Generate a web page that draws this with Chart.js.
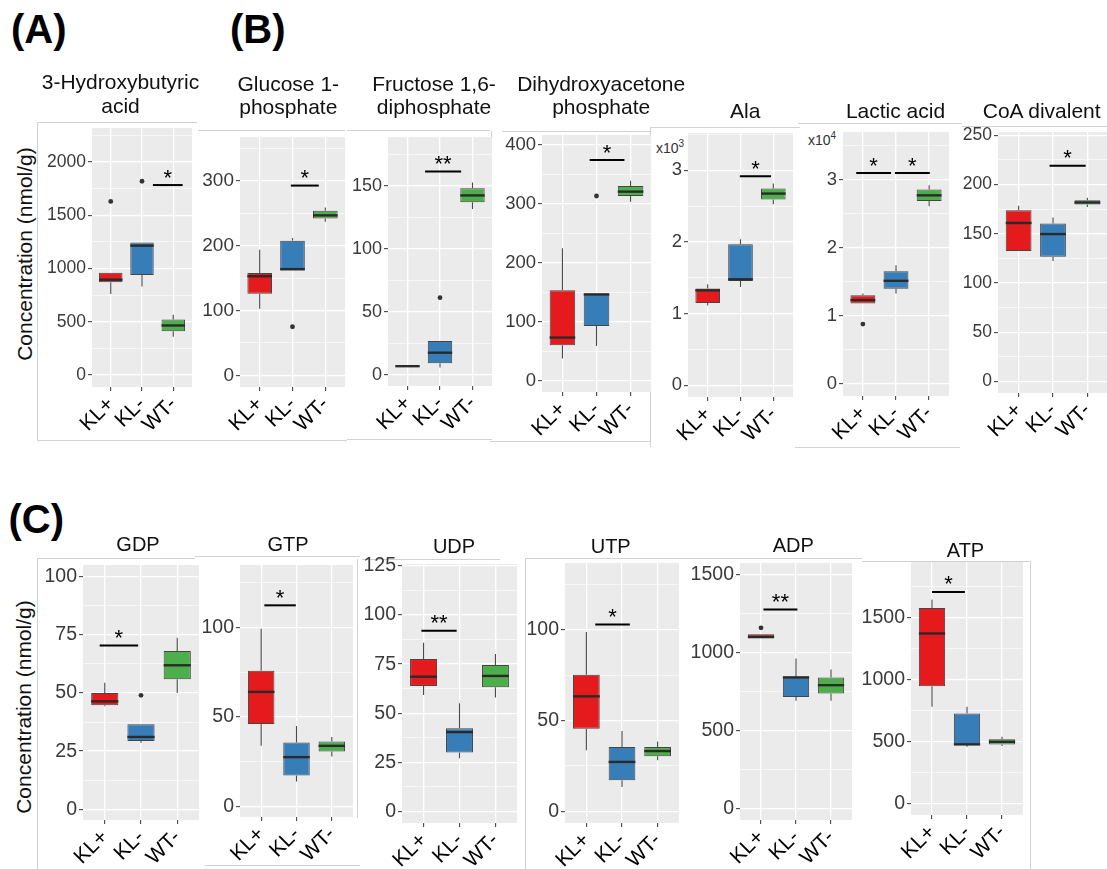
<!DOCTYPE html>
<html>
<head>
<meta charset="utf-8">
<script src="https://cdn.jsdelivr.net/npm/chart.js@4.4.1/dist/chart.umd.min.js"></script>
<style>
  html, body { margin: 0; padding: 0; background: #fff; }
  body { width: 1107px; height: 869px; position: relative; overflow: hidden;
         font-family: "Liberation Sans", Arial, sans-serif; }
  canvas { position: absolute; }
  .title { position: absolute; width: 260px; text-align: center; color: #111; white-space: nowrap; }
  .tag { position: absolute; font-weight: bold; font-size: 40px; line-height: 40px; color: #000; }
  .ylab { position: absolute; font-size: 21px; line-height: 24px; white-space: nowrap; color: #111;
          transform: translate(-50%, -50%) rotate(-90deg); }
  .line { position: absolute; background: #d2d2d2; }
  .expo { position: absolute; font-size: 14px; line-height: 14px; color: #333; white-space: nowrap; }
  .expo sup { font-size: 10px; vertical-align: 6px; line-height: 0; }
</style>
</head>
<body>
<script>
// Groups shown on every x axis and their fills
const groups = ['KL+', 'KL-', 'WT-'];
const groupColors = ['#E41A1C', '#377EB8', '#4DAF4A'];

// Five-number summaries per group: [lower whisker, Q1, median, Q3, upper whisker]
// Outliers per group; significance brackets: [from x, to x, y, label]

// (A)
const hydroxybutyric = [[760, 870, 895, 960, 960], [830, 940, 1215, 1245, 1245], [360, 410, 465, 520, 565]];
const hydroxybutyricOutliers = [[1630], [1820], []];
const hydroxybutyricSig = [[1.35, 2.3, 1784, '*']];

// (B)
const glucose1p = [[103, 126, 153, 158, 194], [162, 162, 164, 208, 212], [237, 242, 247, 254, 259]];
const glucose1pOutliers = [[], [75], []];
const glucose1pSig = [[0.95, 1.8, 293, '*']];

const fructose16dp = [[6.9, 6.9, 7.0, 7.1, 7.1], [6, 9.3, 17.7, 27, 27], [131.5, 136.8, 142.3, 147.9, 152.6]];
const fructose16dpOutliers = [[], [61.3], []];
const fructose16dpSig = [[0.54, 1.65, 161.3, '**']];

const dhap = [[38, 60.6, 73.6, 154, 225], [59.4, 93.4, 146.7, 148.4, 148.4], [304, 313.6, 321, 330.6, 339.5]];
const dhapOutliers = [[], [313.6], []];
const dhapSig = [[0.8, 1.82, 374.5, '*']];

const alanine = [[1115, 1150, 1325, 1350, 1410], [1372, 1455, 1479, 1967, 2037], [2525, 2591, 2675, 2745, 2814]];
const alanineOutliers = [[], [], []];
const alanineSig = [[0.98, 1.93, 2916, '*']];

const lactate = [[11830, 11830, 12320, 13050, 13300], [13300, 13970, 15150, 16570, 17450], [26100, 26870, 27700, 28540, 29200]];
const lactateOutliers = [[8800], [], []];
const lactateSig = [[-0.2, 0.85, 30980, '*'], [0.97, 2.02, 30980, '*']];

const coaDivalent = [[132.5, 132.5, 161, 174, 178.4], [122.3, 126.7, 149.7, 160.5, 166.6], [177.3, 179.8, 181.8, 184.1, 186.5]];
const coaDivalentOutliers = [[], [], []];
const coaDivalentSig = [[0.9, 1.95, 219, '*']];

// (C)
const gdp = [[44.3, 44.7, 46.4, 50.0, 54.4], [28.6, 29.4, 31.1, 36.6, 36.6], [50.0, 55.9, 61.9, 68.0, 73.7]];
const gdpOutliers = [[], [49.0], []];
const gdpSig = [[-0.14, 0.92, 70.4, '*']];

const gtp = [[33.8, 46.0, 63.9, 75.7, 99.1], [13.9, 17.3, 27.5, 35.7, 44.9], [27.9, 30.7, 33.8, 36.2, 38.8]];
const gtpOutliers = [[], [], []];
const gtpSig = [[0.09, 0.98, 112.2, '*']];

const udp = [[59.3, 63.9, 68.6, 77.6, 85.9], [27.1, 30.0, 40.4, 42.4, 55.1], [58.0, 63.2, 69.0, 74.6, 80.2]];
const udpOutliers = [[], [], []];
const udpSig = [[-0.06, 0.92, 92, '**']];

const utp = [[33.6, 45.5, 63.3, 75.2, 98.7], [13.4, 17.1, 27.2, 35.4, 44.2], [28.1, 30.3, 33.2, 35.4, 38.5]];
const utpOutliers = [[], [], []];
const utpSig = [[0.25, 1.22, 102.8, '*']];

const adp = [[1090, 1090, 1100, 1117, 1117], [690, 715, 840, 844, 962], [690, 737, 790, 840, 891]];
const adpOutliers = [[1158], [], []];
const adpSig = [[0.07, 1.04, 1276, '**']];

const atp = [[779, 946, 1371, 1577, 1645], [456, 470, 476, 726, 779], [462, 476, 497, 518, 537]];
const atpOutliers = [[], [], []];
const atpSig = [[0, 0.94, 1706, '*']];

// Panels: title lines, data and y range (min, max, major step, label divisor)
const panels = [
  { title: ['3-Hydroxybutyric', 'acid'], stats: hydroxybutyric, outliers: hydroxybutyricOutliers, sig: hydroxybutyricSig, yMin: -113, yMax: 2320, step: 500, div: 1 },
  { title: ['Glucose 1-', 'phosphate'], stats: glucose1p, outliers: glucose1pOutliers, sig: glucose1pSig, yMin: -18, yMax: 368, step: 100, div: 1 },
  { title: ['Fructose 1,6-', 'diphosphate'], stats: fructose16dp, outliers: fructose16dpOutliers, sig: fructose16dpSig, yMin: -8.7, yMax: 188.6, step: 50, div: 1 },
  { title: ['Dihydroxyacetone', 'phosphate'], stats: dhap, outliers: dhapOutliers, sig: dhapSig, yMin: -18.7, yMax: 417, step: 100, div: 1 },
  { title: ['Ala'], stats: alanine, outliers: alanineOutliers, sig: alanineSig, yMin: -163, yMax: 3520, step: 1000, div: 1000 },
  { title: ['Lactic acid'], stats: lactate, outliers: lactateOutliers, sig: lactateSig, yMin: -1760, yMax: 37000, step: 10000, div: 10000 },
  { title: ['CoA divalent'], stats: coaDivalent, outliers: coaDivalentOutliers, sig: coaDivalentSig, yMin: -11.8, yMax: 253.4, step: 50, div: 1 },
  { title: ['GDP'], stats: gdp, outliers: gdpOutliers, sig: gdpSig, yMin: -4.6, yMax: 105, step: 25, div: 1 },
  { title: ['GTP'], stats: gtp, outliers: gtpOutliers, sig: gtpSig, yMin: -5.9, yMax: 134.7, step: 50, div: 1 },
  { title: ['UDP'], stats: udp, outliers: udpOutliers, sig: udpSig, yMin: -5.9, yMax: 126, step: 25, div: 1 },
  { title: ['UTP'], stats: utp, outliers: utpOutliers, sig: utpSig, yMin: -6.4, yMax: 136.7, step: 50, div: 1 },
  { title: ['ADP'], stats: adp, outliers: adpOutliers, sig: adpSig, yMin: -75, yMax: 1574, step: 500, div: 1 },
  { title: ['ATP'], stats: atp, outliers: atpOutliers, sig: atpSig, yMin: -94, yMax: 1948, step: 500, div: 1 }
];

// Page placement of each plot area, its title (centre x, first baseline) and tick font sizes
const placement = [
  { plot: [92, 128, 192, 387], tx: 120.5, tb: 89.3, tfs: 21, tlh: 24, fs: 17.5 },
  { plot: [240, 137, 345, 387], tx: 288.3, tb: 90.7, tfs: 21, tlh: 23, fs: 19 },
  { plot: [388, 137, 492, 386], tx: 434, tb: 90.7, tfs: 21, tlh: 23, fs: 18 },
  { plot: [542, 135, 651, 392], tx: 601.2, tb: 90.7, tfs: 21, tlh: 23, fs: 18.5 },
  { plot: [688, 133, 793, 397], tx: 745.3, tb: 117.3, tfs: 21, tlh: 23, fs: 18.5 },
  { plot: [843, 132, 949, 396], tx: 895.5, tb: 118, tfs: 21, tlh: 23, fs: 18.5 },
  { plot: [998, 132, 1108, 393], tx: 1041.7, tb: 117.3, tfs: 21, tlh: 23, fs: 17.5 },
  { plot: [83, 565, 199, 820], tx: 138, tb: 551, tfs: 20, tlh: 23, fs: 19.5 },
  { plot: [240, 565, 353, 817], tx: 288, tb: 551, tfs: 20, tlh: 23, fs: 19.5 },
  { plot: [402, 564, 517, 823], tx: 454, tb: 553.3, tfs: 20, tlh: 23, fs: 19.5 },
  { plot: [565, 563, 679, 823], tx: 610.7, tb: 553.3, tfs: 20, tlh: 23, fs: 19.5 },
  { plot: [740, 563, 852, 820], tx: 793.3, tb: 552.7, tfs: 20, tlh: 23, fs: 19.5 },
  { plot: [911, 562, 1023, 815], tx: 965.5, tb: 557.7, tfs: 20, tlh: 23, fs: 19.5 }
];

const FONT = "'Liberation Sans', Arial, sans-serif";
const LW = 70, TP = 24, RP = 14, BH = 72;   // canvas margins around each plot area

function addDiv(cls, css, html) {
  const d = document.createElement('div');
  d.className = cls;
  Object.assign(d.style, css);
  d.innerHTML = html;
  document.body.appendChild(d);
  return d;
}

// Thin grey frame lines around the panels: [x, y, w, h]
const frameLines = [
  [37, 122, 160, 1], [37, 440, 160, 1], [37, 122, 1, 318],
  [198, 130, 147, 1], [197, 440, 150, 1],
  [347, 130, 143, 1], [347, 439, 145, 1],
  [502, 131, 148, 1], [490, 441, 160, 1], [491, 131, 1, 249],
  [650, 127, 150, 1], [650, 127, 1, 320],
  [798, 123, 164, 1], [795, 447, 165, 1],
  [962, 126, 145, 1],
  [37, 558, 158, 1], [37, 558, 1, 311],
  [195, 556, 165, 1], [205, 865, 155, 1],
  [362, 559, 138, 1], [357, 559, 1, 259],
  [525, 558, 170, 1], [525, 558, 1, 311],
  [690, 558, 172, 1],
  [862, 561, 168, 1], [1030, 561, 1, 308]
];
frameLines.forEach(([x, y, w, h]) => addDiv('line', { left: x + 'px', top: y + 'px', width: w + 'px', height: h + 'px' }, ''));

// Panel tags
[['(A)', 11, 43.3], ['(B)', 230, 43.3], ['(C)', 8.5, 532.7]].forEach(([t, x, base]) =>
  addDiv('tag', { left: x + 'px', top: (base - 33.9) + 'px' }, t));

// Shared y-axis titles
addDiv('ylab', { left: '25px', top: '254px' }, 'Concentration (nmol/g)');
addDiv('ylab', { left: '23.5px', top: '706.5px' }, 'Concentration (nmol/g)');

// Axis multipliers for Ala and Lactic acid
addDiv('expo', { left: '656px', top: '141px' }, 'x10<sup>3</sup>');
addDiv('expo', { left: '808px', top: '133px' }, 'x10<sup>4</sup>');

// Whiskers, medians, plot background and significance brackets
function boxParts(p) {
  return {
    id: 'boxParts',
    beforeDraw(chart) {
      const { ctx, chartArea: a } = chart;
      ctx.save();
      ctx.fillStyle = '#EBEBEB';
      ctx.fillRect(a.left, a.top, a.right - a.left, a.bottom - a.top);
      ctx.restore();
    },
    beforeDatasetsDraw(chart) {
      const { ctx, scales: { x, y } } = chart;
      ctx.save();
      ctx.strokeStyle = '#4a4a4a';
      ctx.lineWidth = 1.1;
      p.stats.forEach((s, i) => {
        const px = x.getPixelForValue(i);
        ctx.beginPath();
        ctx.moveTo(px, y.getPixelForValue(s[0]));
        ctx.lineTo(px, y.getPixelForValue(s[1]));
        ctx.moveTo(px, y.getPixelForValue(s[3]));
        ctx.lineTo(px, y.getPixelForValue(s[4]));
        ctx.stroke();
      });
      ctx.restore();
    },
    afterDatasetsDraw(chart) {
      const { ctx, scales: { x, y } } = chart;
      const bars = chart.getDatasetMeta(0).data;
      ctx.save();
      ctx.strokeStyle = '#2a2a2a';
      ctx.lineWidth = 2.4;
      bars.forEach((bar, i) => {
        const { x: bx, width } = bar.getProps(['x', 'width'], true);
        const py = y.getPixelForValue(p.stats[i][2]);
        ctx.beginPath();
        ctx.moveTo(bx - width / 2, py);
        ctx.lineTo(bx + width / 2, py);
        ctx.stroke();
      });
      ctx.strokeStyle = '#000';
      ctx.fillStyle = '#000';
      ctx.lineWidth = 2;
      ctx.font = '22px ' + FONT;
      ctx.textAlign = 'center';
      ctx.textBaseline = 'alphabetic';
      p.sig.forEach(([a, b, v, label]) => {
        const xa = x.getPixelForValue(a), xb = x.getPixelForValue(b), py = y.getPixelForValue(v);
        ctx.beginPath();
        ctx.moveTo(xa, py);
        ctx.lineTo(xb, py);
        ctx.stroke();
        ctx.fillText(label, (xa + xb) / 2, py - 0.5);
      });
      ctx.restore();
    }
  };
}

function drawPanel(p, L) {
  const [x0, y0, x1, y1] = L.plot;
  const w = x1 - x0 + LW + RP, h = y1 - y0 + TP + BH;
  const cv = document.createElement('canvas');
  cv.width = w; cv.height = h;
  Object.assign(cv.style, { left: (x0 - LW) + 'px', top: (y0 - TP) + 'px', width: w + 'px', height: h + 'px' });
  document.body.appendChild(cv);

  // Title
  const top = L.tb - (L.tlh - 1.117 * L.tfs) / 2 - 0.905 * L.tfs;
  addDiv('title', { left: (L.tx - 130) + 'px', top: top + 'px', fontSize: L.tfs + 'px', lineHeight: L.tlh + 'px' },
    p.title.join('<br>'));

  const isMajor = v => Math.abs(v / p.step - Math.round(v / p.step)) < 1e-6;

  new Chart(cv, {
    type: 'bar',
    data: {
      datasets: [
        {
          type: 'bar', order: 2,
          data: p.stats.map((s, i) => ({ x: i, y: [s[1], s[3]] })),
          backgroundColor: groupColors,
          borderColor: '#454545', borderWidth: 1, borderSkipped: false,
          barPercentage: 0.75, categoryPercentage: 1
        },
        {
          type: 'scatter', order: 1,
          data: p.outliers.flatMap((o, i) => o.map(v => ({ x: i, y: v }))),
          pointRadius: 2.4, backgroundColor: '#333', borderWidth: 0
        }
      ]
    },
    options: {
      responsive: false, animation: false, devicePixelRatio: 1, events: [],
      layout: { padding: { top: TP, right: RP, left: 0, bottom: 0 } },
      plugins: { legend: { display: false }, tooltip: { enabled: false } },
      scales: {
        x: {
          type: 'linear', min: -0.6, max: 2.6, offset: false,
          border: { display: false },
          grid: { offset: false, color: '#ffffff', lineWidth: 1.3, tickColor: '#333', tickLength: 4, tickWidth: 1 },
          afterBuildTicks: s => { s.ticks = groups.map((g, i) => ({ value: i })); },
          afterFit: s => { s.height = BH; },
          ticks: {
            autoSkip: false, minRotation: 45, maxRotation: 45, padding: 1, color: '#000',
            font: { family: FONT, size: 21 },
            callback: v => groups[v]
          }
        },
        y: {
          type: 'linear', min: p.yMin, max: p.yMax,
          border: { display: false },
          grid: {
            color: '#ffffff',
            lineWidth: c => isMajor(c.tick.value) ? 1.3 : 0.6,
            tickColor: c => isMajor(c.tick.value) ? '#333' : 'rgba(0,0,0,0)',
            tickLength: 4, tickWidth: 1
          },
          afterBuildTicks: s => {
            const half = p.step / 2, t = [];
            for (let k = Math.ceil(p.yMin / half); k * half <= p.yMax; k++) t.push({ value: k * half });
            s.ticks = t;
          },
          afterFit: s => { s.width = LW; },
          ticks: {
            autoSkip: false, padding: 2, color: '#3a3a3a',
            font: { family: FONT, size: L.fs },
            callback: v => isMajor(v) ? String(Math.round(v / p.div)) : ''
          }
        }
      }
    },
    plugins: [boxParts(p)]
  });
}

panels.forEach((p, i) => drawPanel(p, placement[i]));
</script>
</body>
</html>
